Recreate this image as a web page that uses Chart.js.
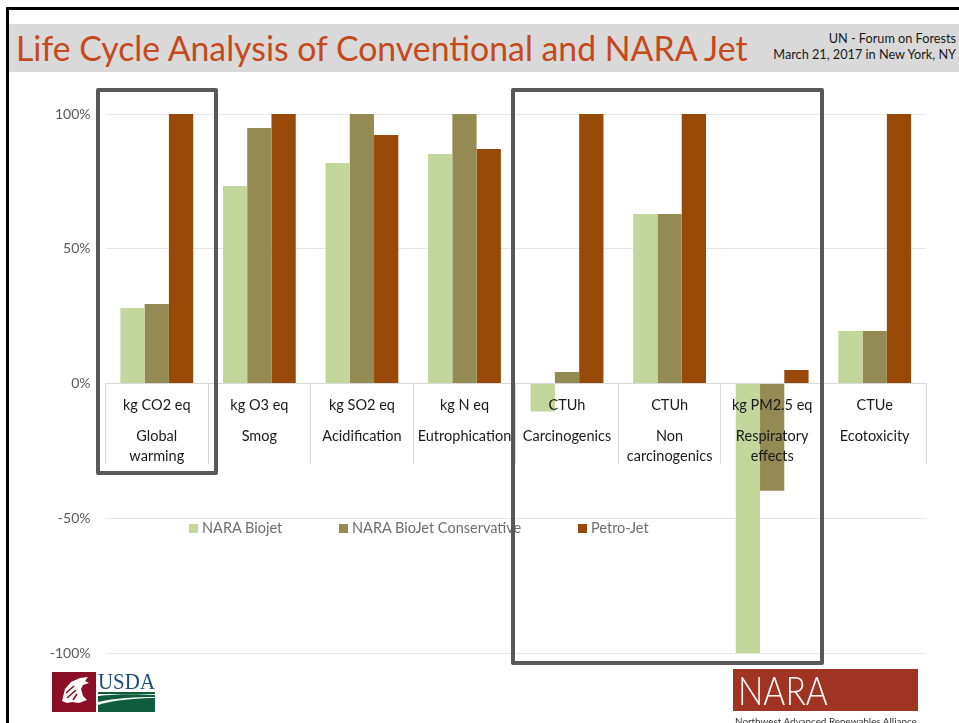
<!DOCTYPE html>
<html>
<head>
<meta charset="utf-8">
<title>Life Cycle Analysis of Conventional and NARA Jet</title>
<script src="https://cdn.jsdelivr.net/npm/chart.js@4/dist/chart.umd.min.js"></script>
<style>
  html, body { margin: 0; padding: 0; background: #fff; }
  body { width: 959px; height: 723px; overflow: hidden; position: relative; font-family: Lato, sans-serif; }
  #chart { position: absolute; left: 0; top: 0; }
  .abs { position: absolute; white-space: nowrap; }
  .frame { position: absolute; box-sizing: border-box; border: 4px solid #595959; border-radius: 2px; }
  .swatch { position: absolute; width: 9px; height: 9px; top: 524px; }
  .leg { position: absolute; top: 519px; font-size: 14.5px; line-height: 18px; color: #6e6e6e; white-space: nowrap; }
</style>
</head>
<body>
<div class="abs" style="left:6px;top:7px;width:953px;height:3px;background:#000"></div>
<div class="abs" style="left:6px;top:7px;width:3px;height:716px;background:#000"></div>
<div class="abs" style="left:9px;top:24px;width:950px;height:48px;background:#d9d9d9"></div>
<div class="abs" id="title" style="left:16px;top:27px;font-size:33.8px;line-height:42px;color:#c5491b">Life Cycle Analysis of Conventional and NARA Jet</div>
<div class="abs" style="right:3px;top:30px;text-align:right;font-size:12.7px;line-height:16px;color:#1a1a1a">UN - Forum on Forests<br>March 21, 2017 in New York, NY</div>

<canvas id="chart" width="959" height="723"></canvas>

<div id="legend"></div>
<div class="frame" style="left:96px;top:88px;width:122px;height:387px"></div>
<div class="frame" style="left:511px;top:88px;width:313px;height:577px"></div>

<svg class="abs" style="left:52px;top:672px" width="104" height="40" viewBox="0 0 104 40">
  <rect x="0" y="0" width="44" height="40" fill="#8a0f26"/>
  <path d="M10 29 L13 17 L19 10 L28 6 L36 5 L33 9 L37 11 L31 13 L29 17 L31 24 L35 28 L27 31 L20 30 L15 31 Z" fill="#fff"/>
  <path d="M14 21 L22 14 M15 26 L24 18 M21 28 L25 22" stroke="#8a0f26" stroke-width="1.6" fill="none"/>
  <text x="46" y="17" font-family="Liberation Serif" font-size="23" fill="#1d4a7c" textLength="57" lengthAdjust="spacingAndGlyphs">USDA</text>
  <path d="M46 20 H103 V22 H46 Z" fill="#0f5c3e"/>
  <path d="M46 24 C62 22 85 22 103 23 V25 C85 25 62 26 46 30 Z" fill="#0f5c3e"/>
  <path d="M46 33 C62 28 85 26 103 26 V40 H46 Z" fill="#0f5c3e"/>
</svg>
<div class="abs" style="left:733px;top:669px;width:185px;height:42px;background:#a03322"></div>
<div class="abs" style="left:738px;top:669px;font-size:40px;line-height:42px;font-weight:300;color:#fff;transform:scaleX(0.84);transform-origin:left">NARA</div>
<div class="abs" style="left:735px;top:714px;font-size:9.9px;line-height:14px;color:#333">Northwest Advanced Renewables Alliance</div>

<script>
const units = ["kg CO2 eq", "kg O3 eq", "kg SO2 eq", "kg N eq", "CTUh", "CTUh", "kg PM2.5 eq", "CTUe"];
const impacts = [
  ["Global", "warming"],
  ["Smog", ""],
  ["Acidification", ""],
  ["Eutrophication", ""],
  ["Carcinogenics", ""],
  ["Non", "carcinogenics"],
  ["Respiratory", "effects"],
  ["Ecotoxicity", ""],
];
const naraBiojet = [28, 73.3, 81.8, 85.2, -10.4, 62.9, -100, 19.5];
const naraConservative = [29.5, 94.8, 100, 100, 4.3, 62.9, -39.8, 19.5];
const petroJet = [100, 100, 92.2, 87, 100, 100, 5, 100];
const seriesNames = ["NARA Biojet", "NARA BioJet Conservative", "Petro-Jet"];
const seriesColors = ["#c3d69b", "#948a54", "#984807"];
const yTicks = [100, 50, 0, -50, -100];
const legendX = [189, 339, 578];

// blank rows give the gap between the unit and the impact name
const labels = units.map((u, i) => [u, "", "", impacts[i][0], "", impacts[i][1]]);

const legend = document.getElementById("legend");
seriesNames.forEach((name, i) => {
  const box = document.createElement("div");
  box.className = "swatch";
  box.style.left = legendX[i] + "px";
  box.style.background = seriesColors[i];
  legend.appendChild(box);
  const txt = document.createElement("div");
  txt.className = "leg";
  txt.style.left = legendX[i] + 13 + "px";
  txt.textContent = name;
  legend.appendChild(txt);
});

new Chart(document.getElementById("chart").getContext("2d"), {
  type: "bar",
  data: {
    labels: labels,
    datasets: [naraBiojet, naraConservative, petroJet].map((d, i) => ({
      label: seriesNames[i],
      data: d,
      backgroundColor: seriesColors[i],
      borderWidth: 0,
      categoryPercentage: 0.71,
      barPercentage: 1,
    })),
  },
  options: {
    responsive: false,
    animation: false,
    layout: { padding: { left: 0, right: 33, top: 114, bottom: 70 } },
    plugins: { legend: { display: false }, tooltip: { enabled: false } },
    scales: {
      x: {
        position: { y: 0 },
        border: { color: "#d9d9d9", width: 1 },
        grid: { drawOnChartArea: false, tickLength: 80, tickColor: "#d9d9d9", tickWidth: 1 },
        ticks: {
          z: 1,
          autoSkip: false,
          maxRotation: 0,
          minRotation: 0,
          padding: -63,
          color: "#1a1a1a",
          font: { family: "Lato", size: 14.5, lineHeight: "10.1px" },
        },
      },
      y: {
        min: -100,
        max: 100,
        afterFit: (s) => { s.width = 105.5; },
        afterBuildTicks: (s) => { s.ticks = yTicks.map((v) => ({ value: v })); },
        border: { display: false },
        grid: { color: "#e6e6e6", drawTicks: false },
        ticks: {
          padding: 15,
          color: "#595959",
          font: { family: "Lato", size: 14 },
          callback: (v) => v + "%",
        },
      },
    },
  },
});
</script>
</body>
</html>
